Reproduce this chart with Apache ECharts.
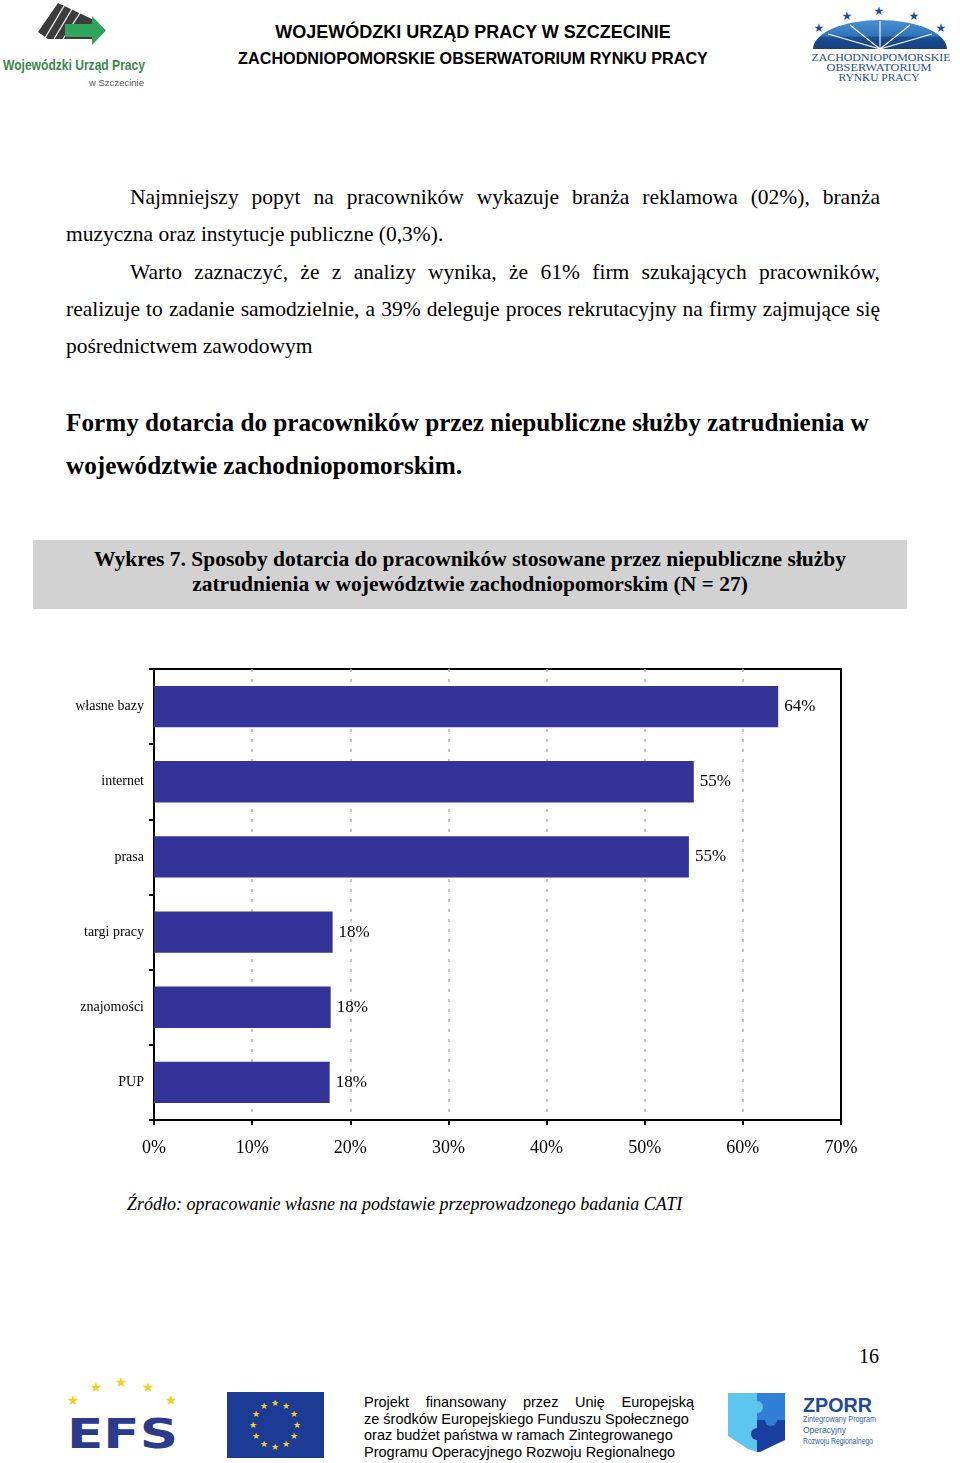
<!DOCTYPE html>
<html>
<head>
<meta charset="utf-8">
<script src="https://cdn.jsdelivr.net/npm/echarts@6/dist/echarts.min.js"></script>
<style>
body{margin:0;background:#fff;}
#page{position:relative;width:960px;height:1463px;overflow:hidden;background:#fff;color:#000;}
.abs{position:absolute;white-space:nowrap;}
.serif{font-family:"Liberation Serif","Times New Roman",serif;}
.sans{font-family:"Liberation Sans",Arial,sans-serif;}
.jl{text-align:justify;text-align-last:justify;}
</style>
</head>
<body>
<div id="page">
<svg class="abs" style="left:0;top:0" width="960" height="1463" xmlns="http://www.w3.org/2000/svg">
  <!-- left logo -->
  <polygon points="58,3 94,20 92,39 48,39 38,32" fill="#3c3c3c"/>
  <g stroke="#ffffff" stroke-width="1.2">
    <line x1="64" y1="6" x2="45" y2="38"/>
    <line x1="72" y1="9" x2="54" y2="39"/>
    <line x1="80" y1="13" x2="63" y2="39"/>
  </g>
  <rect x="65" y="24" width="28" height="13" fill="#2ea55a"/>
  <polygon points="92,16 106,30.5 92,45" fill="#2ea55a"/>
  <text x="3" y="70" font-family="Liberation Sans, Arial" font-weight="bold" font-size="15" fill="#3b8a4c" textLength="142" lengthAdjust="spacingAndGlyphs">Wojewódzki Urząd Pracy</text>
  <text x="89" y="86" font-family="Liberation Sans, Arial" font-size="8.5" fill="#555" textLength="55" lengthAdjust="spacingAndGlyphs">w Szczecinie</text>
  <!-- right logo -->
  <defs>
    <linearGradient id="dome" x1="0" y1="0" x2="0" y2="1">
      <stop offset="0" stop-color="#4a90d0"/>
      <stop offset="0.55" stop-color="#2f74bb"/>
      <stop offset="0.6" stop-color="#1b4f94"/>
      <stop offset="1" stop-color="#163f7c"/>
    </linearGradient>
  </defs>
  <path d="M813,49 A67,29 0 0 1 947,49 Z" fill="url(#dome)"/>
  <g stroke="#ffffff" stroke-width="1.1">
    <line x1="880" y1="49" x2="828" y2="34"/>
    <line x1="880" y1="49" x2="850" y2="25"/>
    <line x1="880" y1="49" x2="880" y2="21"/>
    <line x1="880" y1="49" x2="910" y2="25"/>
    <line x1="880" y1="49" x2="932" y2="34"/>
  </g>
  <g fill="#1d4f92" font-size="12" font-family="DejaVu Sans" text-anchor="middle">
    <text x="819" y="32">★</text>
    <text x="847" y="20">★</text>
    <text x="879" y="15">★</text>
    <text x="914" y="20">★</text>
    <text x="941" y="32">★</text>
  </g>
  <g fill="#1f4f8f" font-family="Liberation Serif, serif" font-size="10" text-anchor="middle">
    <text x="881" y="61" textLength="139" lengthAdjust="spacingAndGlyphs">ZACHODNIOPOMORSKIE</text>
    <text x="879" y="71" textLength="105" lengthAdjust="spacingAndGlyphs">OBSERWATORIUM</text>
    <text x="879" y="81" textLength="81" lengthAdjust="spacingAndGlyphs">RYNKU PRACY</text>
  </g>
  <!-- EFS logo -->
  <g fill="#f2d21b" font-size="14" font-family="DejaVu Sans" text-anchor="middle">
    <text x="73" y="1405">★</text>
    <text x="96" y="1392">★</text>
    <text x="121" y="1387">★</text>
    <text x="148" y="1392">★</text>
    <text x="171" y="1405">★</text>
  </g>
  <text x="67" y="1448" font-family="DejaVu Sans" font-weight="bold" font-size="40" fill="#2c3a8c" textLength="111" lengthAdjust="spacingAndGlyphs">EFS</text>
  <!-- EU flag -->
  <rect x="227" y="1392" width="97" height="66" fill="#1c3b95"/>
  <g fill="#f5d31c" font-size="9" font-family="DejaVu Sans" text-anchor="middle">
    <text x="275" y="1406">★</text><text x="286" y="1409">★</text><text x="294" y="1417">★</text>
    <text x="297" y="1428">★</text><text x="294" y="1439">★</text><text x="286" y="1447">★</text>
    <text x="275" y="1450">★</text><text x="264" y="1447">★</text><text x="256" y="1439">★</text>
    <text x="253" y="1428">★</text><text x="256" y="1417">★</text><text x="264" y="1409">★</text>
  </g>
  <!-- ZPORR logo -->
  <polygon points="728,1393 757,1393 757,1452 748,1449 728,1436" fill="#5cc6ef"/>
  <polygon points="757,1393 785,1393 785,1420 757,1420" fill="#2f7fd6"/>
  <polygon points="757,1420 785,1420 785,1440 760,1452 757,1452" fill="#1a3f9e"/>
  <circle cx="757" cy="1407" r="6" fill="#5cc6ef"/>
  <circle cx="771" cy="1420" r="6" fill="#2f7fd6"/>
  <circle cx="757" cy="1434" r="6" fill="#1a3f9e"/>
  <text x="803" y="1412" font-family="Liberation Sans, Arial" font-weight="bold" font-size="21" fill="#1d4aa0" textLength="69" lengthAdjust="spacingAndGlyphs">ZPORR</text>
  <g font-family="Liberation Sans, Arial" font-size="8.5" fill="#2a5fa8">
    <text x="803" y="1422" textLength="73" lengthAdjust="spacingAndGlyphs">Zintegrowany Program</text>
    <text x="803" y="1433">Operacyjny</text>
    <text x="803" y="1444" textLength="70" lengthAdjust="spacingAndGlyphs">Rozwoju Regionalnego</text>
  </g>
</svg>

<!-- header -->
<div class="abs sans" style="left:0;width:946px;top:21px;line-height:22px;font-size:18px;font-weight:bold;text-align:center;">WOJEWÓDZKI URZĄD PRACY W SZCZECINIE</div>
<div class="abs sans" style="left:0;width:946px;top:48px;line-height:20px;font-size:16.2px;font-weight:bold;text-align:center;">ZACHODNIOPOMORSKIE OBSERWATORIUM RYNKU PRACY</div>

<!-- body text -->
<div class="abs serif jl" style="left:130px;width:750px;top:179px;line-height:37px;font-size:21.5px;">Najmniejszy popyt na pracowników wykazuje branża reklamowa (02%), branża</div>
<div class="abs serif" style="left:66px;top:216px;line-height:37px;font-size:21.5px;">muzyczna oraz instytucje publiczne (0,3%).</div>
<div class="abs serif jl" style="left:130px;width:750px;top:254px;line-height:37px;font-size:21.5px;">Warto zaznaczyć, że z analizy wynika, że 61% firm szukających pracowników,</div>
<div class="abs serif jl" style="left:66px;width:814px;top:291px;line-height:37px;font-size:21.5px;">realizuje to zadanie samodzielnie, a 39% deleguje proces rekrutacyjny na firmy zajmujące się</div>
<div class="abs serif" style="left:66px;top:328px;line-height:37px;font-size:21.5px;">pośrednictwem zawodowym</div>

<!-- heading -->
<div class="abs serif" style="left:66px;top:407px;line-height:32px;font-size:25.2px;font-weight:bold;">Formy dotarcia do pracowników przez niepubliczne służby zatrudnienia w</div>
<div class="abs serif" style="left:66px;top:450px;line-height:32px;font-size:25.2px;font-weight:bold;">województwie zachodniopomorskim.</div>

<!-- chart title box -->
<div class="abs serif" style="left:33px;top:540px;width:874px;height:69px;background:#d2d2d2;text-align:center;font-size:21.5px;font-weight:bold;line-height:25px;padding-top:7px;box-sizing:border-box;white-space:normal;">
Wykres 7. Sposoby dotarcia do pracowników stosowane przez niepubliczne służby<br>zatrudnienia w województwie zachodniopomorskim (N = 27)</div>

<div id="chart" class="abs" style="left:0;top:640px;width:960px;height:540px;"></div>

<div class="abs serif" style="left:127px;top:1193px;line-height:22px;font-size:18px;font-style:italic;">Źródło: opracowanie własne na podstawie przeprowadzonego badania CATI</div>

<div class="abs serif" style="left:859px;top:1345px;line-height:22px;font-size:20px;">16</div>

<!-- footer text -->
<div class="abs sans jl" style="left:364px;width:330px;top:1394px;line-height:16.7px;font-size:14.5px;">Projekt finansowany przez Unię Europejską</div>
<div class="abs sans" style="left:364px;top:1410.7px;line-height:16.7px;font-size:14.5px;">ze środków Europejskiego Funduszu Społecznego</div>
<div class="abs sans" style="left:364px;top:1427.4px;line-height:16.7px;font-size:14.5px;">oraz budżet państwa w ramach Zintegrowanego</div>
<div class="abs sans" style="left:364px;top:1444px;line-height:16.7px;font-size:14.5px;">Programu Operacyjnego Rozwoju Regionalnego</div>
</div>

<script>
const categories = ['własne bazy', 'internet', 'prasa', 'targi pracy', 'znajomości', 'PUP'];
const shares = [63.6, 55.0, 54.5, 18.2, 18.0, 17.9];
const axisMin = 0;
const axisMax = 70;
const axisStep = 10;

const chart = echarts.init(document.getElementById('chart'), null, {renderer: 'canvas'});
chart.setOption({
  animation: false,
  grid: {left: 154, right: 119, top: 29, bottom: 60, show: true, borderColor: '#000', borderWidth: 2, outerBoundsMode: 'none'},
  xAxis: {
    type: 'value', min: axisMin, max: axisMax, interval: axisStep,
    axisLine: {show: true, lineStyle: {color: '#000', width: 2}},
    axisTick: {show: true, length: 5, lineStyle: {color: '#000', width: 2}},
    axisLabel: {formatter: '{value}%', color: '#000', fontFamily: 'Liberation Serif', fontSize: 18, margin: 19},
    splitLine: {show: true, showMinLine: false, showMaxLine: false, lineStyle: {color: '#b5b5b5', type: [3, 7], width: 1.5}}
  },
  yAxis: {
    type: 'category', data: categories, inverse: true,
    axisLine: {show: true, lineStyle: {color: '#000', width: 2}},
    axisTick: {show: true, length: 5, lineStyle: {color: '#000', width: 2}},
    axisLabel: {color: '#000', fontFamily: 'Liberation Serif', fontSize: 14, margin: 10, padding: [3, 0, 0, 0]},
    splitLine: {show: false}
  },
  series: [{
    type: 'bar', data: shares, barWidth: '55%',
    itemStyle: {color: '#333399'},
    label: {show: true, position: 'right', distance: 6, color: '#000', fontFamily: 'Liberation Serif', fontSize: 17,
      padding: [3, 0, 0, 0], formatter: p => Math.round(p.value) + '%'}
  }]
});
</script>
</body>
</html>
